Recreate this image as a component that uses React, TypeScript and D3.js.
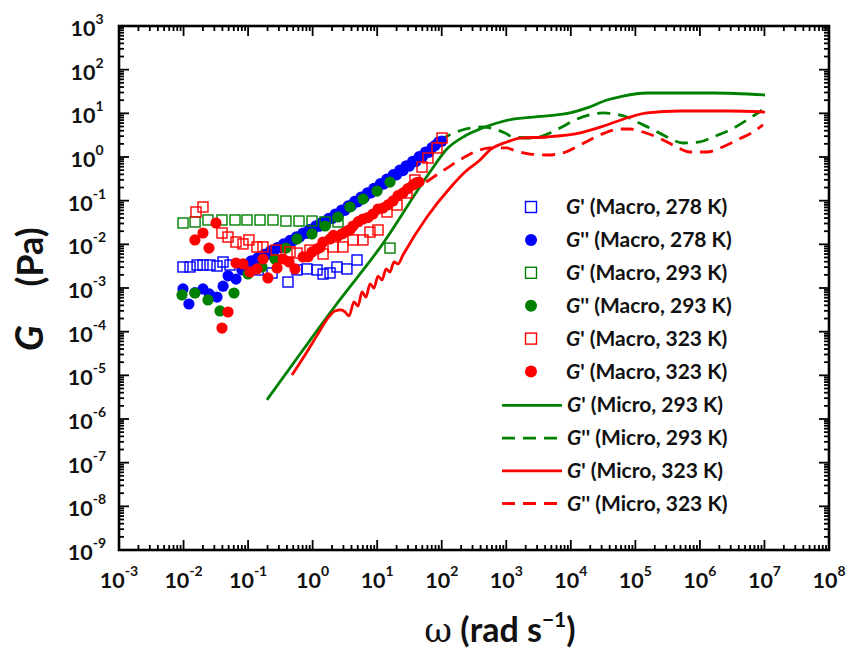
import React from "react";
import * as d3 from "d3";

// ---------------- data (omega in rad/s, G in Pa) ----------------
const xExponents = [-3, -2, -1, 0, 1, 2, 3, 4, 5, 6, 7, 8];
const yExponents = [-9, -8, -7, -6, -5, -4, -3, -2, -1, 0, 1, 2, 3];

const gp278Macro: [number, number][] = [
  [0.0098, 3.03e-3], [0.0126, 3.03e-3], [0.0162, 3.36e-3], [0.02, 3.36e-3], [0.0257, 3.36e-3],
  [0.033, 3.19e-3], [0.0409, 3.94e-3], [0.0525, 3.36e-3], [0.0865, 2.88e-3], [0.143, 2.59e-3],
  [0.235, 2.21e-3], [0.415, 1.37e-3], [0.573, 2.59e-3], [0.817, 2.73e-3], [1.17, 2.59e-3],
  [1.45, 2.09e-3], [1.86, 2.21e-3], [2.38, 3.03e-3], [3.4, 2.73e-3], [4.87, 4.38e-3],
];
const gpp278Macro: [number, number][] = [
  [0.0098, 9.5e-4], [0.0121, 4.3e-4], [0.015, 7.8e-4], [0.02, 9.5e-4], [0.025, 7.3e-4],
  [0.033, 6.2e-4], [0.041, 1.1e-3], [0.049, 1.9e-3], [0.065, 1.6e-3], [0.08, 2.6e-3],
  [0.1, 3.6e-3], [0.112, 4.2e-3], [0.126, 4.2e-3], [0.141, 4.9e-3], [0.158, 5.0e-3],
  [0.178, 5.9e-3], [0.2, 5.9e-3], [0.224, 7.1e-3], [0.251, 7.0e-3], [0.282, 8.4e-3],
  [0.316, 8.4e-3], [0.355, 0.0102], [0.398, 0.0101], [0.447, 0.0123], [0.501, 0.0122],
  [0.562, 0.0149], [0.631, 0.0147], [0.708, 0.018], [0.794, 0.0178], [0.891, 0.0218],
  [1.0, 0.0215], [1.12, 0.0265], [1.26, 0.026], [1.41, 0.0322], [1.58, 0.0318],
  [1.78, 0.0395], [2.0, 0.039], [2.24, 0.049], [2.51, 0.048], [2.82, 0.061],
  [3.16, 0.06], [3.55, 0.076], [3.98, 0.075], [4.47, 0.096], [5.01, 0.094],
  [5.62, 0.12], [6.31, 0.118], [7.08, 0.152], [7.94, 0.15], [8.91, 0.192],
  [10, 0.19], [11.2, 0.245], [12.6, 0.24], [14.1, 0.31], [15.8, 0.305],
  [17.8, 0.395], [20, 0.39], [22.4, 0.5], [25.1, 0.49], [28.2, 0.63],
  [31.6, 0.62], [35.5, 0.8], [39.8, 0.79], [44.7, 1.02], [50.1, 1.0],
  [56.2, 1.3], [63.1, 1.28], [70.8, 1.65], [79.4, 1.85], [89.1, 2.2], [100, 2.3],
];
const gp293Macro: [number, number][] = [
  [0.00982, 0.0308], [0.0151, 0.0325], [0.0239, 0.0361], [0.0394, 0.0361], [0.0627, 0.0361],
  [0.0962, 0.0361], [0.153, 0.0361], [0.243, 0.0361], [0.386, 0.0342], [0.615, 0.0342],
  [0.977, 0.0342], [1.56, 0.0325], [2.47, 0.0325], [15.8, 8.2e-3],
];
const gpp293Macro: [number, number][] = [
  [0.00946, 6.93e-4], [0.015, 7.69e-4], [0.0239, 5.32e-4], [0.0367, 2.98e-4], [0.0605, 7.69e-4],
  [0.0998, 2.09e-3], [0.164, 3.03e-3], [0.261, 4.62e-3], [0.387, 8.2e-3], [0.573, 0.0133],
  [0.977, 0.0173], [1.56, 0.0263], [2.47, 0.0423], [3.79, 0.0716], [6.03, 0.109],
  [9.93, 0.166], [15.8, 0.267],
];
const gp323Macro: [number, number][] = [
  [0.0156, 0.0551], [0.02, 0.0716], [0.0394, 0.0182], [0.0489, 0.0147], [0.065, 0.0113],
  [0.0834, 0.0102], [0.103, 0.0126], [0.137, 8.7e-3], [0.17, 8.7e-3], [0.271, 7.4e-3],
  [0.446, 6.7e-3], [0.573, 6.3e-3], [0.91, 7.4e-3], [1.45, 6.0e-3], [2.07, 8.7e-3],
  [2.95, 8.7e-3], [4.22, 0.0126], [6.03, 0.0126], [7.73, 0.0191], [10.3, 0.0213],
  [14.2, 0.0551], [20.3, 0.0796], [29.0, 0.15], [38.5, 0.297], [49.5, 0.59],
  [61.2, 0.949], [84.5, 1.61], [101, 2.72],
];
const gpp323Macro: [number, number][] = [
  [0.015, 0.0126], [0.02, 0.0182], [0.0248, 8.2e-3], [0.0318, 0.0308], [0.0394, 1.21e-4],
  [0.0489, 2.82e-4], [0.065, 3.74e-3], [0.0834, 3.55e-3], [0.107, 2.33e-3], [0.137, 2.73e-3],
  [0.17, 4.62e-3], [0.203, 1.7e-3], [0.281, 2.88e-3], [0.348, 4.62e-3], [0.431, 3.94e-3],
  [0.533, 2.73e-3], [0.71, 5.14e-3], [0.85, 5.2e-3], [0.977, 6.7e-3], [1.17, 7.8e-3],
  [1.3, 8.5e-3], [1.45, 0.0113], [1.86, 0.0133], [2.1, 0.016], [2.47, 0.0155],
  [2.9, 0.0175], [3.4, 0.0202], [3.8, 0.0215], [4.22, 0.0263], [5.1, 0.033],
  [6.03, 0.038], [7.2, 0.041], [8.61, 0.0495], [10.3, 0.064], [12.3, 0.0679],
  [14.7, 0.08], [17.6, 0.0984], [21, 0.13], [25.1, 0.15], [30, 0.19],
  [35.9, 0.229], [40, 0.255], [44.5, 0.267],
];

const gp293Micro: [number, number][] = [
  [0.196, 2.75e-6], [0.708, 3.8e-5], [2.65, 5.4e-4], [11.0, 8.3e-3], [65.8, 0.454],
  [120, 1.52], [229, 3.03], [392, 4.38], [718, 6.0], [1270, 7.4], [4280, 8.7],
  [9700, 10.2], [17800, 13.3], [36300, 20.2], [64300, 24.9], [151000, 29.2],
  [1.59e6, 29.2], [1.02e7, 26.3],
];
const gpp293Micro: [number, number][] = [
  [0.184, 4.78e-3], [0.641, 0.0173], [2.67, 0.0611], [14.3, 0.348], [36.0, 0.853],
  [94.2, 2.45], [207, 4.15], [437, 4.86], [957, 3.55], [1270, 2.87], [2590, 2.72],
  [4760, 3.55], [6800, 4.61], [12500, 7.41], [31600, 10.2], [74200, 8.24],
  [106000, 6.33], [169000, 4.61], [309000, 2.87], [547000, 2.09], [1.0e6, 2.21],
  [1.6e6, 2.87], [2.92e6, 4.15], [5.36e6, 7.03], [9.14e6, 11.9],
];
const gp323Micro: [number, number][] = [
  [0.479, 1.02e-5], [0.762, 2.93e-5], [1.21, 8.9e-5], [1.73, 2.06e-4], [2.22, 2.98e-4],
  [2.75, 3.14e-4], [3.17, 2.83e-4], [3.66, 2.29e-4], [4.37, 4.79e-4], [5.05, 3.87e-4],
  [5.82, 8.1e-4], [6.71, 6.2e-4], [7.74, 1.24e-3], [8.93, 1.0e-3], [10.3, 1.88e-3],
  [11.9, 1.53e-3], [13.7, 2.73e-3], [15.8, 2.33e-3], [18.2, 3.94e-3], [21.0, 3.55e-3],
  [25.1, 5.7e-3], [59.1, 0.0423], [134, 0.195], [229, 0.453], [392, 0.853],
  [560, 1.45], [1026, 2.21], [1632, 2.72], [4280, 2.87], [13900, 3.55], [36300, 5.41],
  [82600, 8.24], [151000, 10.2], [491000, 11.3], [2.92e6, 11.3], [1.02e7, 10.7],
];
const gpp323Micro: [number, number][] = [
  [57.3, 0.268], [109, 0.504], [213, 0.949], [392, 1.45], [560, 1.61], [1026, 1.61],
  [1270, 1.45], [2330, 1.17], [4280, 1.11], [7570, 1.24], [13900, 1.88], [28300, 3.19],
  [57800, 4.38], [82600, 4.38], [131000, 3.74], [216000, 2.87], [383000, 1.88],
  [702000, 1.3], [1.29e6, 1.3], [2.05e6, 1.61], [3.76e6, 2.45], [6.65e6, 3.74], [9.5e6, 5.41],
];

const scatterLabels = [
  ["G", "' (Macro, 278 K)"],
  ["G", "'' (Macro, 278 K)"],
  ["G", "' (Macro, 293 K)"],
  ["G", "'' (Macro, 293 K)"],
  ["G", "' (Macro, 323 K)"],
  ["G", "' (Macro, 323 K)"],
];
const lineLabels = [
  ["G", "' (Micro, 293 K)"],
  ["G", "'' (Micro, 293 K)"],
  ["G", "' (Micro, 323 K)"],
  ["G", "'' (Micro, 323 K)"],
];

// ---------------- styles ----------------
const BLUE = "#0000ff";
const GREEN = "#008000";
const RED = "#ff0000";
const FONT = "Lato, 'Open Sans', sans-serif";

const scatterSeries = [
  { data: gp278Macro, color: BLUE, shape: "square" },
  { data: gpp278Macro, color: BLUE, shape: "circle" },
  { data: gp293Macro, color: GREEN, shape: "square" },
  { data: gpp293Macro, color: GREEN, shape: "circle" },
  { data: gp323Macro, color: RED, shape: "square" },
  { data: gpp323Macro, color: RED, shape: "circle" },
];
const lineSeries = [
  { data: gp293Micro, color: GREEN, dash: "" },
  { data: gpp293Micro, color: GREEN, dash: "13 8" },
  { data: gp323Micro, color: RED, dash: "" },
  { data: gpp323Micro, color: RED, dash: "13 8" },
];

const X0 = 119, X1 = 829, Y0 = 550, Y1 = 26;

export default function App() {
  const x = d3.scaleLog().domain([1e-3, 1e8]).range([X0, X1]);
  const y = d3.scaleLog().domain([1e-9, 1e3]).range([Y0, Y1]);
  const line = d3
    .line<[number, number]>()
    .x((d) => x(d[0]))
    .y((d) => y(d[1]))
    .curve(d3.curveMonotoneX);

  const xMinor: number[] = [];
  for (let e = -3; e < 8; e++) for (let m = 2; m <= 9; m++) xMinor.push(m * Math.pow(10, e));
  const yMinor: number[] = [];
  for (let e = -9; e < 3; e++) for (let m = 2; m <= 9; m++) yMinor.push(m * Math.pow(10, e));

  const MAJ = 10, MIN = 5;
  const tickStroke = { stroke: "#000", strokeWidth: 1.8 };

  const legX = 531, legTextX = 566;
  const legRowY = (i: number) => 207 + i * 32.9;

  return (
    <svg width={850} height={657} style={{ display: "block", position: "absolute", left: 0, top: 0, background: "#fff" }}>
      <rect x={0} y={0} width={850} height={657} fill="#fff" />
      {/* lines (beneath the measured points) */}
      {lineSeries.map((s, i) => (
        <path key={"l" + i} d={line(s.data) || ""} fill="none" stroke={s.color} strokeWidth={2.8} strokeDasharray={s.dash || undefined} />
      ))}
      {/* scatter */}
      {scatterSeries.map((s, i) => (
        <g key={"s" + i}>
          {s.data.map((d, j) =>
            s.shape === "square" ? (
              <rect key={j} x={x(d[0]) - 5} y={y(d[1]) - 5} width={10} height={10} fill="none" stroke={s.color} strokeWidth={1.4} />
            ) : (
              <circle key={j} cx={x(d[0])} cy={y(d[1])} r={5.6} fill={s.color} />
            )
          )}
        </g>
      ))}

      {/* ticks */}
      {xExponents.map((e) => {
        const px = x(Math.pow(10, e));
        return (
          <g key={"xt" + e}>
            <line x1={px} x2={px} y1={Y0} y2={Y0 - MAJ} {...tickStroke} />
            <line x1={px} x2={px} y1={Y1} y2={Y1 + MAJ} {...tickStroke} />
            <text x={px} y={Y0 + 38} textAnchor="middle" fontFamily={FONT} fontWeight="bold" fontSize={21.5} fill="#111">
              10<tspan dy={-12} fontSize={14}>{String(e)}</tspan>
            </text>
          </g>
        );
      })}
      {xMinor.map((v, i) => {
        const px = x(v);
        return (
          <g key={"xm" + i}>
            <line x1={px} x2={px} y1={Y0} y2={Y0 - MIN} {...tickStroke} />
            <line x1={px} x2={px} y1={Y1} y2={Y1 + MIN} {...tickStroke} />
          </g>
        );
      })}
      {yExponents.map((e) => {
        const py = y(Math.pow(10, e));
        return (
          <g key={"yt" + e}>
            <line x1={X0} x2={X0 + MAJ} y1={py} y2={py} {...tickStroke} />
            <line x1={X1} x2={X1 - MAJ} y1={py} y2={py} {...tickStroke} />
            <text x={87} y={py + 10} textAnchor="middle" fontFamily={FONT} fontWeight="bold" fontSize={21.5} fill="#111">
              10<tspan dy={-12} fontSize={14}>{String(e)}</tspan>
            </text>
          </g>
        );
      })}
      {yMinor.map((v, i) => {
        const py = y(v);
        return (
          <g key={"ym" + i}>
            <line x1={X0} x2={X0 + MIN} y1={py} y2={py} {...tickStroke} />
            <line x1={X1} x2={X1 - MIN} y1={py} y2={py} {...tickStroke} />
          </g>
        );
      })}
      <rect x={X0} y={Y1} width={X1 - X0} height={Y0 - Y1} fill="none" stroke="#000" strokeWidth={2.6} />

      {/* axis titles */}
      <text transform="translate(43,257) rotate(-90)" textAnchor="middle" fontFamily={FONT} fontWeight="bold" fontSize={36} fill="#111">
        (Pa)
      </text>
      <text transform="translate(43,338) rotate(-90)" textAnchor="middle" fontFamily={FONT} fontWeight="bold" fontStyle="italic" fontSize={38} fill="#111">
        G
      </text>
      <text x={500} y={642} textAnchor="middle" fontFamily={FONT} fontSize={34} fill="#111">
        <tspan fontFamily="'DejaVu Serif', serif" fontWeight="normal">ω</tspan>
        <tspan fontWeight="bold"> (rad s</tspan>
        <tspan fontWeight="bold" fontSize={21} dy={-15}>−1</tspan>
        <tspan fontWeight="bold" dy={15}>)</tspan>
      </text>

      {/* legend */}
      {scatterSeries.map((s, i) => {
        const cy = legRowY(i);
        return (
          <g key={"lg" + i}>
            {s.shape === "square" ? (
              <rect x={legX - 5.5} y={cy - 5.5} width={11} height={11} fill="none" stroke={s.color} strokeWidth={1.4} />
            ) : (
              <circle cx={legX} cy={cy} r={6} fill={s.color} />
            )}
            <text x={legTextX} y={cy + 7} fontFamily={FONT} fontWeight="bold" fontSize={21} fill="#111">
              <tspan fontStyle="italic">{scatterLabels[i][0]}</tspan>
              {scatterLabels[i][1]}
            </text>
          </g>
        );
      })}
      {lineSeries.map((s, i) => {
        const cy = legRowY(6) + 1 + i * 32.7;
        return (
          <g key={"ll" + i}>
            <line x1={502} x2={562} y1={cy} y2={cy} stroke={s.color} strokeWidth={2.8} strokeDasharray={s.dash || undefined} />
            <text x={legTextX + 1} y={cy + 7} fontFamily={FONT} fontWeight="bold" fontSize={21} fill="#111">
              <tspan fontStyle="italic">{lineLabels[i][0]}</tspan>
              {lineLabels[i][1]}
            </text>
          </g>
        );
      })}
    </svg>
  );
}
